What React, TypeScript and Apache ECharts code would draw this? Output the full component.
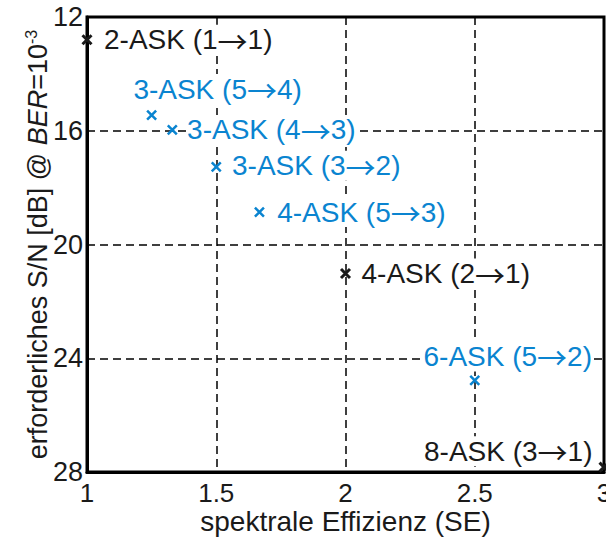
import React, { useEffect, useRef } from 'react';
import * as echarts from 'echarts';

const xTicks = [1, 1.5, 2, 2.5, 3];
const yTicks = [12, 16, 20, 24, 28];
const schemes = ['2-ASK (1→1)', '3-ASK (5→4)', '3-ASK (4→3)', '3-ASK (3→2)', '4-ASK (5→3)', '4-ASK (2→1)', '6-ASK (5→2)', '8-ASK (3→1)'];
const spectralEfficiency = [1, 1.25, 1.33, 1.5, 1.667, 2, 2.5, 3];
const requiredSNR = [12.8, 15.45, 15.97, 17.27, 18.86, 21.02, 24.78, 27.83];
const isBlue = [false, true, true, true, true, false, true, false];

// label placement (text left edge / vertical centre relative to marker, px)
const labelOffsets = [[16, 0], [-19, -26], [14, 0], [15, -1], [17, 0], [15, 0], [-52, -24], [-181, -16]];

const FONT = '"Liberation Sans", Arial, Helvetica, sans-serif';
const ARROW_FONT = '"Noto Sans CJK SC", "DejaVu Sans", sans-serif';
const BLUE = '#0a84d0';
const BLACK = '#1a1a1a';

export default function App() {
  const ref = useRef<HTMLDivElement>(null);
  useEffect(() => {
    const chart = echarts.init(ref.current!, null, { renderer: 'svg' });
    const data = schemes.map((name, i) => {
      const c = isBlue[i] ? BLUE : BLACK;
      const [dx, dy] = labelOffsets[i];
      return {
        name,
        value: [spectralEfficiency[i], requiredSNR[i]],
        itemStyle: { color: c, borderColor: c, borderWidth: isBlue[i] ? 2.5 : 3, opacity: 1 },
        label: {
          show: true,
          position: 'right',
          distance: 0,
          offset: [dx - 6, dy],
          color: c,
          opacity: 1,
          fontSize: 28,
          fontFamily: FONT,
          backgroundColor: '#fff',
          padding: [1, 1],
          formatter: '{t|' + name.split('→').join('}{r|→}{t|') + '}',
          rich: {
            t: { fontSize: 28, fontFamily: FONT, color: c, lineHeight: 28 },
            r: { fontSize: 30, fontFamily: ARROW_FONT, color: c, lineHeight: 28 },
          },
        },
      };
    });
    chart.setOption({
      animation: false,
      backgroundColor: '#fff',
      grid: {
        left: 87, top: 17, right: 2, bottom: 65,
        outerBoundsMode: 'none',
        containLabel: false,
        show: true, borderColor: '#000', borderWidth: 3, backgroundColor: 'transparent',
      },
      xAxis: {
        type: 'value',
        min: xTicks[0], max: xTicks[xTicks.length - 1], interval: xTicks[1] - xTicks[0],
        name: 'spektrale Effizienz (SE)',
        nameLocation: 'middle',
        nameGap: 35,
        nameMoveOverlap: false,
        nameTextStyle: { fontSize: 28, lineHeight: 28, fontFamily: FONT, color: BLACK },
        axisLine: { show: true, lineStyle: { color: '#000', width: 3 } },
        axisTick: { show: false },
        axisLabel: { fontSize: 26, lineHeight: 24, fontFamily: FONT, color: BLACK, margin: 9, hideOverlap: false },
        splitLine: { show: true, lineStyle: { color: '#000', type: [8, 5], width: 1.5 } },
      },
      yAxis: {
        type: 'value',
        inverse: true,
        min: yTicks[0], max: yTicks[yTicks.length - 1], interval: yTicks[1] - yTicks[0],
        name: '{a|erforderliches S/N [dB] @ }{i|BER}{a|=10}{s|-3}',
        nameLocation: 'middle',
        nameRotate: 90,
        nameGap: 34,
        nameMoveOverlap: false,
        nameTextStyle: {
          fontSize: 27, fontFamily: FONT, color: BLACK,
          rich: {
            a: { fontSize: 27, fontFamily: FONT, color: BLACK, lineHeight: 30 },
            i: { fontSize: 27, fontFamily: FONT, color: BLACK, fontStyle: 'italic', lineHeight: 30 },
            s: { fontSize: 16, fontFamily: FONT, color: BLACK, verticalAlign: 'top', lineHeight: 30 },
          },
        },
        axisLine: { show: true, lineStyle: { color: '#000', width: 3 } },
        axisTick: { show: false },
        axisLabel: { fontSize: 27, fontFamily: FONT, color: BLACK, margin: 4 },
        splitLine: { show: true, lineStyle: { color: '#000', type: [8, 5], width: 1.5 } },
      },
      series: [
        {
          type: 'scatter',
          clip: false,
          symbol: 'path://M0,0L10,10M0,10L10,0',
          symbolSize: 9,
          itemStyle: { opacity: 1 },
          data,
        },
      ],
    });
    return () => chart.dispose();
  }, []);
  return <div ref={ref} style={{ position: 'absolute', left: 0, top: 0, width: 606, height: 537 }} />;
}
